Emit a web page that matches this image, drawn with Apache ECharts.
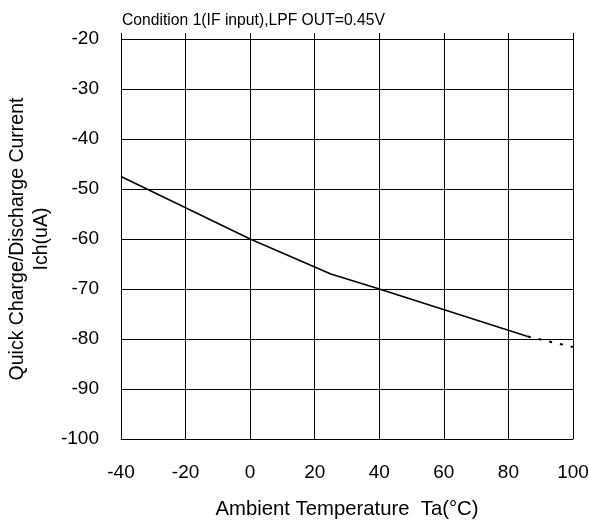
<!DOCTYPE html>
<html>
<head>
<meta charset="utf-8">
<script src="https://cdn.jsdelivr.net/npm/echarts@6/dist/echarts.min.js"></script>
<style>
html,body{margin:0;padding:0;background:#fff;}
#c{width:589px;height:522px;}
</style>
</head>
<body>
<div id="c"></div>
<script>
// Data
const titleText = "Condition 1(IF input),LPF OUT=0.45V";
const xName = "Ambient Temperature  Ta(°C)";
const yName = "Quick Charge/Discharge Current\nIch(uA)";
const xMin = -40, xMax = 100, xStep = 20;
const yMin = -100, yMax = -20, yStep = 10;
// measured solid curve: [temperature, current]
const solidX = [-40, 0, 25, 40, 86];
const solidY = [-47.5, -60, -67, -70, -79.5];
// dotted extension
const dottedX = [86, 100];
const dottedY = [-79.5, -81.6];

const zip = (xs, ys) => xs.map((x, i) => [x, ys[i]]);
const FONT = "Liberation Sans, Arial, sans-serif";
const chart = echarts.init(document.getElementById('c'), null, {renderer: 'canvas'});
chart.setOption({
  animation: false,
  backgroundColor: '#fff',
  title: {
    text: titleText, left: 117, top: 8,
    textStyle: {fontFamily: FONT, fontSize: 15.7, fontWeight: 'normal', color: '#000'}
  },
  grid: {left: 121, right: 16, top: 39, bottom: 83, containLabel: false, outerBoundsMode: 'none'},
  xAxis: [{
    type: 'value', min: xMin, max: xMax, interval: xStep,
    name: xName, nameLocation: 'middle', nameGap: 60, nameMoveOverlap: false,
    nameTextStyle: {fontFamily: FONT, fontSize: 20.3, color: '#000'},
    axisLine: {show: true, lineStyle: {color: '#000', width: 1}},
    axisTick: {show: false},
    axisLabel: {fontFamily: FONT, fontSize: 19, color: '#000', margin: 24},
    splitLine: {show: true, lineStyle: {color: '#000', width: 1}}
  }, {
    type: 'value', min: xMin, max: xMax, interval: xStep, position: 'top',
    axisLine: {show: false},
    axisTick: {show: true, length: 6, lineStyle: {color: '#000', width: 1}},
    axisLabel: {show: false},
    splitLine: {show: false}
  }],
  yAxis: {
    type: 'value', min: yMin, max: yMax, interval: yStep,
    name: yName, nameLocation: 'middle', nameGap: 67, nameMoveOverlap: false,
    nameTextStyle: {fontFamily: FONT, fontSize: 19.5, color: '#000', lineHeight: 24},
    axisLine: {show: true, lineStyle: {color: '#000', width: 1}},
    axisTick: {show: false},
    axisLabel: {fontFamily: FONT, fontSize: 19, color: '#000', margin: 22},
    splitLine: {show: true, lineStyle: {color: '#000', width: 1}}
  },
  series: [{
    type: 'line', data: zip(solidX, solidY), showSymbol: false, symbol: 'none',
    lineStyle: {color: '#000', width: 1.5}
  }, {
    type: 'line', data: zip(dottedX, dottedY), showSymbol: false, symbol: 'none',
    lineStyle: {color: '#000', width: 2, type: [3, 8]}
  }]
});
</script>
</body>
</html>
